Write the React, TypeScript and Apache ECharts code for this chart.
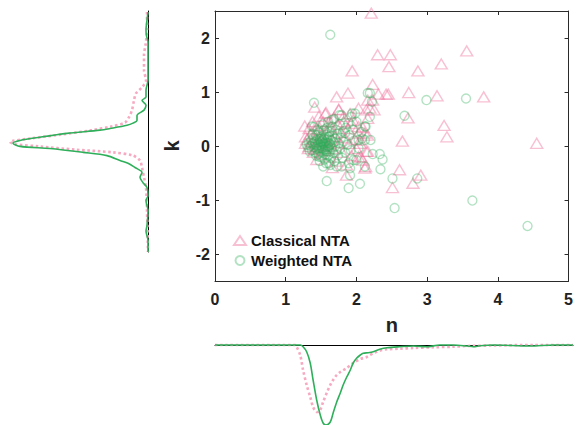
import React, { useEffect, useRef } from "react";
import * as echarts from "echarts";

// Scatter data: [n, k]
const classicalNTA: number[][] = [
  [2.21, 2.46], [2.30, 1.69], [2.48, 1.69], [2.46, 1.47], [2.87, 1.39], [3.20, 1.52], [3.56, 1.76],
  [2.23, 1.14], [2.31, 0.96], [2.45, 0.96], [2.74, 0.99], [3.14, 0.93], [3.80, 0.91], [2.73, 0.52],
  [3.24, 0.38], [3.28, 0.17], [2.65, 0.09], [4.55, 0.05], [2.61, -0.44], [2.91, -0.54], [2.80, -0.69],
  [2.51, -0.77], [2.13, -0.38], [2.16, -0.10], [2.06, -0.20], [2.05, 0.11], [2.09, 0.34], [2.16, 0.51],
  [2.19, 0.70], [2.23, 0.85], [2.14, 0.67], [2.25, 0.67], [1.94, 1.39], [1.88, 0.98], [1.72, 0.91],
  [1.41, 0.72], [1.27, 0.37], [1.56, 0.60], [1.75, 0.67], [2.03, 0.70], [1.91, 0.60], [2.12, 0.24],
  [1.28, 0.17], [1.33, -0.01], [1.86, -0.54], [2.12, -0.41], [2.03, -0.20], [2.16, 0.85], [1.82, 0.45],
  [1.93, 0.42], [2.03, 0.36], [1.61, 0.45], [1.47, 0.30], [2.03, 0.24], [2.16, 0.20], [2.05, 0.05],
  [2.42, 0.96], [2.09, -0.26], [2.14, -0.10],
  [1.28, 0.05], [1.30, 0.12], [1.32, -0.05], [1.35, 0.22], [1.37, 0.08], [1.39, -0.12], [1.40, 0.30],
  [1.42, 0.02], [1.43, 0.15], [1.45, -0.02], [1.46, 0.38], [1.48, 0.07], [1.49, -0.15], [1.50, 0.20],
  [1.52, 0.00], [1.53, 0.45], [1.55, 0.10], [1.56, -0.08], [1.58, 0.28], [1.60, 0.04], [1.62, -0.20],
  [1.63, 0.35], [1.65, 0.12], [1.67, -0.05], [1.68, 0.52], [1.70, 0.18], [1.72, -0.28], [1.74, 0.40],
  [1.76, 0.06], [1.78, 0.25], [1.80, -0.12], [1.82, 0.55], [1.84, 0.15], [1.86, -0.35], [1.88, 0.32],
  [1.90, 0.05], [1.93, -0.18], [1.95, 0.48], [1.98, 0.12], [2.00, -0.05], [1.38, 0.45], [1.44, -0.25],
  [1.57, 0.62], [1.66, -0.40], [1.75, 0.68], [1.47, 0.55], [1.33, 0.32], [1.41, -0.06], [1.51, 0.09],
  [1.61, 0.00],
];

const weightedNTA: number[][] = [
  [1.63, 2.06], [2.19, 0.98], [2.22, 0.82], [2.99, 0.85], [3.55, 0.88], [2.68, 0.56], [2.19, 0.54],
  [2.13, 0.36], [2.07, 0.26], [2.08, 0.14], [2.20, 0.11], [2.23, -0.15], [2.33, -0.15], [2.37, -0.25],
  [2.34, -0.43], [2.51, -0.60], [2.86, -0.60], [2.54, -1.15], [3.64, -1.01], [4.42, -1.48], [2.05, -0.70],
  [2.00, -0.26], [1.40, 0.80], [1.58, -0.65], [1.89, -0.78], [1.79, -0.38], [1.89, -0.32], [1.91, -0.54],
  [1.61, -0.32], [1.37, 0.36], [2.16, 0.98], [1.98, 0.60], [1.93, 0.54], [1.79, 0.57], [1.65, 0.48],
  [1.76, 0.57], [1.94, 0.60], [1.91, -0.41], [1.96, -0.26], [2.12, -0.38], [2.12, 0.11], [2.12, 0.36],
  [1.89, 0.42], [1.54, 0.30], [1.84, 0.24], [2.03, 0.11], [2.03, -0.04], [1.47, -0.20],
  [1.30, 0.02], [1.32, -0.03], [1.33, 0.06], [1.35, 0.00], [1.36, 0.10], [1.37, -0.08], [1.38, 0.04],
  [1.39, 0.15], [1.40, -0.02], [1.41, 0.08], [1.42, -0.12], [1.42, 0.03], [1.43, 0.20], [1.44, -0.05],
  [1.44, 0.11], [1.45, 0.01], [1.46, -0.15], [1.46, 0.06], [1.47, 0.25], [1.47, -0.03], [1.48, 0.13],
  [1.48, -0.09], [1.49, 0.03], [1.50, 0.18], [1.50, -0.20], [1.50, 0.07], [1.51, -0.04], [1.51, 0.00],
  [1.52, 0.10], [1.52, -0.12], [1.53, 0.04], [1.53, 0.28], [1.54, -0.07], [1.54, 0.15], [1.55, 0.01],
  [1.55, -0.25], [1.56, 0.08], [1.56, -0.02], [1.57, 0.21], [1.57, -0.15], [1.58, 0.05], [1.58, 0.33],
  [1.59, -0.06], [1.59, 0.12], [1.60, 0.00], [1.60, -0.18], [1.61, 0.17], [1.61, 0.06], [1.62, -0.10],
  [1.62, 0.26], [1.63, 0.03], [1.64, -0.22], [1.64, 0.10], [1.65, -0.03], [1.66, 0.19], [1.66, 0.36],
  [1.67, -0.13], [1.68, 0.07], [1.69, -0.28], [1.70, 0.14], [1.70, 0.00], [1.71, 0.30], [1.72, -0.08],
  [1.73, 0.22], [1.74, -0.17], [1.75, 0.05], [1.76, 0.40], [1.77, -0.05], [1.78, 0.15], [1.80, -0.22],
  [1.81, 0.27], [1.82, 0.08], [1.84, -0.12], [1.85, 0.34], [1.87, 0.02], [1.90, 0.20], [1.92, -0.08],
  [1.95, 0.30], [1.97, 0.10], [2.00, 0.45], [1.45, 0.30], [1.40, 0.35], [1.52, 0.40], [1.60, 0.45],
  [1.68, 0.50], [1.57, -0.32], [1.63, -0.35], [1.48, -0.28], [1.72, -0.38], [1.53, -0.38], [1.34, -0.10],
  [1.38, 0.22], [1.43, -0.18], [1.65, 0.28], [1.58, -0.10], [1.49, 0.09], [1.54, 0.05], [1.56, -0.06],
  [1.51, 0.14], [1.61, -0.01],
];

// Marginal density of k: [k, density]
const kDensityClassical: number[][] = [
  [2.48, 0.01], [2.15, 0.01], [1.87, 0.025], [1.69, 0.04], [1.41, 0.04], [1.22, 0.02], [1.09, 0.06],
  [0.98, 0.12], [0.85, 0.14], [0.67, 0.16], [0.54, 0.19], [0.44, 0.23], [0.37, 0.36], [0.30, 0.56],
  [0.22, 0.86], [0.15, 1.16], [0.08, 1.38], [0.04, 1.33], [0.0, 1.08], [-0.06, 0.73], [-0.11, 0.35],
  [-0.17, 0.15], [-0.26, 0.08], [-0.39, 0.06], [-0.57, 0.04], [-0.76, 0.02], [-1.19, 0.01], [-1.95, 0.0],
];
const kDensityWeighted: number[][] = [
  [2.48, 0.0], [2.33, 0.01], [2.15, 0.02], [2.04, 0.015], [1.93, 0.0], [1.59, 0.0], [1.22, 0.0],
  [1.04, 0.02], [0.91, 0.02], [0.85, 0.06], [0.76, 0.02], [0.67, 0.04], [0.57, 0.11], [0.48, 0.11],
  [0.43, 0.15], [0.39, 0.21], [0.33, 0.38], [0.30, 0.48], [0.24, 0.81], [0.17, 1.08], [0.11, 1.28],
  [0.06, 1.35], [0.0, 1.28], [-0.04, 0.98], [-0.11, 0.65], [-0.17, 0.41], [-0.26, 0.28], [-0.31, 0.2],
  [-0.39, 0.13], [-0.48, 0.06], [-0.57, 0.08], [-0.67, 0.05], [-0.76, 0.01], [-0.91, 0.0], [-1.0, 0.02],
  [-1.19, 0.0], [-1.46, 0.01], [-1.56, 0.02], [-1.74, 0.0], [-1.95, 0.0],
];

// Marginal density of n: [n, density]
const nDensityClassical: number[][] = [
  [0, 0], [1.12, 0], [1.14, 0.017], [1.19, 0.1], [1.23, 0.25], [1.28, 0.4], [1.33, 0.52], [1.37, 0.62],
  [1.42, 0.67], [1.44, 0.67], [1.47, 0.65], [1.51, 0.57], [1.56, 0.48], [1.61, 0.4], [1.65, 0.35],
  [1.7, 0.3], [1.75, 0.27], [1.84, 0.23], [1.93, 0.18], [2.03, 0.14], [2.12, 0.12], [2.21, 0.083],
  [2.3, 0.057], [2.4, 0.043], [2.58, 0.037], [2.77, 0.03], [3.05, 0.023], [3.33, 0.017], [3.52, 0.01],
  [3.89, 0.005], [4.45, 0], [5, 0],
];
const nDensityWeighted: number[][] = [
  [0, 0], [1.19, 0], [1.23, 0.017], [1.28, 0.067], [1.33, 0.18], [1.37, 0.35], [1.42, 0.55], [1.47, 0.7],
  [1.51, 0.78], [1.55, 0.8], [1.61, 0.77], [1.65, 0.68], [1.7, 0.57], [1.75, 0.48], [1.79, 0.4],
  [1.84, 0.32], [1.89, 0.25], [1.93, 0.18], [1.98, 0.13], [2.03, 0.1], [2.07, 0.083], [2.14, 0.077],
  [2.21, 0.067], [2.3, 0.043], [2.4, 0.027], [2.58, 0.017], [2.77, 0.01], [2.96, 0.017], [3.14, 0],
  [3.33, 0], [3.52, 0.01], [3.61, 0.017], [3.7, 0.007], [3.89, 0], [4.4, 0.01], [4.72, 0], [5, 0],
];

const xTicks = [0, 1, 2, 3, 4, 5];
const yTicks = [-2, -1, 0, 1, 2];

const FONT = "'Liberation Sans', Arial, Helvetica, sans-serif";
const PINK = "rgba(239,111,154,0.55)";
const GREEN = "rgba(43,176,90,0.45)";

export default function App() {
  const ref = useRef<HTMLDivElement>(null);
  useEffect(() => {
    const chart = echarts.init(ref.current!, null, { renderer: "svg" });
    const axisColor = "#2a2a2a";
    chart.setOption({
      animation: false,
      backgroundColor: "#ffffff",
      textStyle: { fontFamily: FONT },
      grid: [
        { left: 215, top: 11, width: 358, height: 270 },
        { left: 8, top: 11, width: 140, height: 241 },
        { left: 215, top: 345, width: 358, height: 80 },
      ],
      legend: {
        orient: "vertical",
        left: 228,
        top: 228,
        padding: 5,
        itemWidth: 12,
        itemHeight: 9,
        itemGap: 5,
        textStyle: { fontSize: 15, fontWeight: "bold", color: "#111", fontFamily: FONT },
        data: ["Classical NTA", "Weighted NTA"],
      },
      xAxis: [
        {
          gridIndex: 0, type: "value", min: xTicks[0], max: xTicks[xTicks.length - 1], interval: 1,
          position: "bottom",
          axisLine: { onZero: false, lineStyle: { color: axisColor, width: 1 } },
          axisTick: { inside: true, length: 4, lineStyle: { color: axisColor } },
          axisLabel: { fontSize: 16, fontWeight: "bold", color: "#222", margin: 10, fontFamily: FONT },
          splitLine: { show: false },
          name: "n", nameLocation: "middle", nameGap: 34,
          nameTextStyle: { fontSize: 20, fontWeight: "bold", color: "#222", fontFamily: FONT },
        },
        {
          gridIndex: 0, type: "value", min: 0, max: 5, interval: 1, position: "top",
          axisLine: { onZero: false, lineStyle: { color: axisColor, width: 1 } },
          axisTick: { inside: true, length: 4, lineStyle: { color: axisColor } },
          axisLabel: { show: false }, splitLine: { show: false },
        },
        {
          gridIndex: 1, type: "value", min: 0, max: 1.4, inverse: true, show: false,
          splitLine: { show: false },
        },
        {
          gridIndex: 2, type: "value", min: 0, max: 5, position: "top",
          axisLine: { show: true, onZero: false, lineStyle: { color: "#000", width: 1 } },
          axisTick: { show: false }, axisLabel: { show: false }, splitLine: { show: false },
        },
      ],
      yAxis: [
        {
          gridIndex: 0, type: "value", min: -2.5, max: 2.5,
          axisLine: { show: true, onZero: false, lineStyle: { color: axisColor, width: 1 } },
          axisTick: { show: true, inside: true, length: 4, customValues: yTicks, lineStyle: { color: axisColor } },
          axisLabel: { fontSize: 16, fontWeight: "bold", color: "#222", margin: 5, customValues: yTicks, fontFamily: FONT },
          splitLine: { show: false },
          name: "k", nameLocation: "middle", nameGap: 33,
          nameTextStyle: { fontSize: 20, fontWeight: "bold", color: "#222", fontFamily: FONT },
        },
        {
          gridIndex: 0, type: "value", min: -2.5, max: 2.5, position: "right",
          axisLine: { show: true, onZero: false, lineStyle: { color: axisColor, width: 1 } },
          axisTick: { show: true, inside: true, length: 4, customValues: yTicks, lineStyle: { color: axisColor } },
          axisLabel: { show: false }, splitLine: { show: false },
        },
        {
          gridIndex: 1, type: "value", min: -1.95, max: 2.5, position: "right",
          axisLine: { show: true, onZero: false, lineStyle: { color: "#000", width: 1 } },
          axisTick: { show: false }, axisLabel: { show: false }, splitLine: { show: false },
        },
        {
          gridIndex: 2, type: "value", min: 0, max: 0.8, inverse: true, show: false,
          splitLine: { show: false },
        },
      ],
      series: [
        {
          name: "Classical NTA", type: "scatter", xAxisIndex: 0, yAxisIndex: 0,
          symbol: "triangle", symbolSize: [12, 10],
          itemStyle: { color: "rgba(0,0,0,0)", borderColor: PINK, borderWidth: 1.4 },
          data: classicalNTA, z: 2,
        },
        {
          name: "Weighted NTA", type: "scatter", xAxisIndex: 0, yAxisIndex: 0,
          symbol: "circle", symbolSize: 9,
          itemStyle: { color: "rgba(0,0,0,0)", borderColor: GREEN, borderWidth: 1.4 },
          data: weightedNTA, z: 3,
        },
        {
          name: "k density classical", type: "line", xAxisIndex: 2, yAxisIndex: 2,
          data: kDensityClassical.map(([k, d]) => [d, k]),
          showSymbol: false, smooth: 0.3, clip: false,
          lineStyle: { color: "#f7a9c1", width: 2.6, type: [2.6, 2.6] },
        },
        {
          name: "k density weighted", type: "line", xAxisIndex: 2, yAxisIndex: 2,
          data: kDensityWeighted.map(([k, d]) => [d, k]),
          showSymbol: false, smooth: 0.3, clip: false,
          lineStyle: { color: "#2eaf5a", width: 1.6 },
        },
        {
          name: "n density classical", type: "line", xAxisIndex: 3, yAxisIndex: 3,
          data: nDensityClassical,
          showSymbol: false, smooth: 0.3, clip: false,
          lineStyle: { color: "#f7a9c1", width: 2.6, type: [2.6, 2.6] },
        },
        {
          name: "n density weighted", type: "line", xAxisIndex: 3, yAxisIndex: 3,
          data: nDensityWeighted,
          showSymbol: false, smooth: 0.3, clip: false,
          lineStyle: { color: "#2eaf5a", width: 1.6 },
        },
      ],
    });
    return () => chart.dispose();
  }, []);
  return (
    <div
      ref={ref}
      style={{ position: "absolute", left: 0, top: 0, width: 576, height: 425 }}
    />
  );
}
